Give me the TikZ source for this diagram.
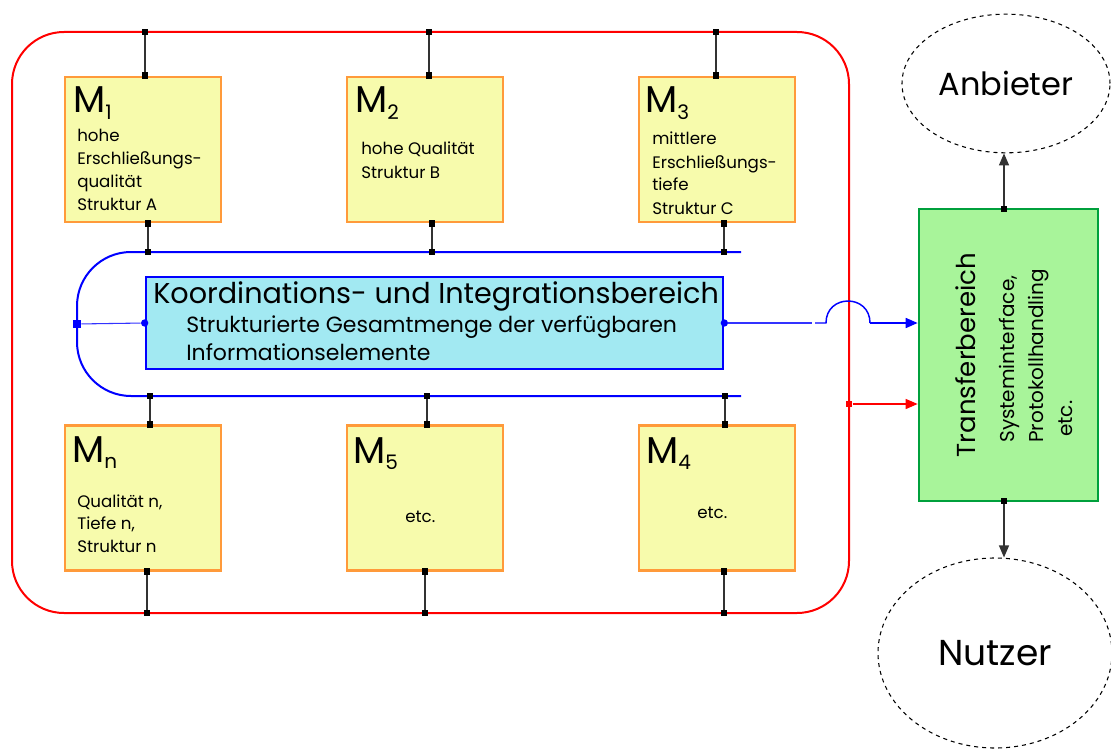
\documentclass[tikz,border=0pt]{standalone}
\usepackage{fontspec}
\setmainfont{Poppins}
\usetikzlibrary{arrows.meta,shapes.geometric}
\definecolor{boxfill}{HTML}{F7FBAC}
\definecolor{boxline}{HTML}{FF9A3A}
\definecolor{kfill}{HTML}{A2E9F2}
\definecolor{gfill}{HTML}{A8F49A}
\definecolor{gline}{HTML}{00A03C}
\newcommand\modname[1]{M\raisebox{-5pt}{\fontsize{15}{15}\selectfont #1}}
% stacked lines whose baseline is that of the first line
\newcommand\stack[1]{\begin{tabular}[t]{@{}l@{}}#1\end{tabular}}
\begin{document}
\begin{tikzpicture}[x=0.75pt,y=-0.75pt,
  conn/.style={draw=black!80, line width=0.9pt},
  sq/.style={rectangle, fill=black, inner sep=0pt, minimum size=5.2pt},
  bdot/.style={circle, fill=blue, inner sep=0pt, minimum size=5.5pt},
  mbox/.style={rectangle, draw=boxline, fill=boxfill, line width=2pt,
    minimum width=117pt, minimum height=108.75pt, inner sep=0pt},
  mlabel/.style={anchor=base west, inner sep=0pt, font=\fontsize{28}{28}\selectfont},
  mtext/.style={anchor=base west, inner sep=0pt, font=\fontsize{12.5}{17.25}\selectfont},
  bus/.style={draw=blue, line width=1.5pt},
  thinbus/.style={draw=blue!80, line width=0.8pt},
  frame/.style={draw=red, line width=1.5pt},
  cloud/.style={ellipse, draw=black, dashed, line width=0.8pt, inner sep=0pt},
  tip/.style={-{Triangle[length=9pt,width=7.5pt]}}
]
\useasboundingbox (0,0) rectangle (1111,749);

% outer frame of the module area
\draw[frame, rounded corners=39pt] (12,32) rectangle (849,613);

% coordination bus
\draw[bus, rounded corners=40.5pt] (741,252) -- (77,252) -- (77,396) -- (741,396);

% modules
\node[mbox] (m1) at (143,149.5) {};
\node[mbox] (m2) at (425,149.5) {};
\node[mbox] (m3) at (717,149.5) {};
\node[mbox] (mn) at (143,498) {};
\node[mbox] (m5) at (425,498) {};
\node[mbox] (m4) at (717,498) {};

\node[mlabel] (l1) at (73,113) {\modname{1}};
\node[mlabel] (l2) at (355,113) {\modname{2}};
\node[mlabel] (l3) at (645,113) {\modname{3}};
\node[mlabel] (ln) at (72,462) {\modname{n}};
\node[mlabel] (l5) at (353,463) {\modname{5}};
\node[mlabel] (l4) at (646,463) {\modname{4}};

\node[mtext] (t1) at (77,142) {\stack{hohe\\Erschließungs-\\qualität\\Struktur A}};
\node[mtext] (t2) at (361,155) {\stack{hohe Qualität\\Struktur B}};
\node[mtext] (t3) at (652,145) {\stack{mittlere\\Erschließungs-\\tiefe\\Struktur C}};
\node[mtext, font=\fontsize{12.5}{16.9}\selectfont] (tn) at (77,507) {\stack{Qualität n,\\Tiefe n,\\Struktur n}};
\node[mtext] (t5) at (405,522) {etc.};
\node[mtext] (t4) at (697,518) {etc.};

% coordination and integration area
\node[rectangle, draw=blue, fill=kfill, line width=2pt, minimum width=432.75pt,
  minimum height=69pt, inner sep=0pt] (kb) at (434.5,323) {};
\node[anchor=base west, inner sep=0pt, font=\fontsize{21.5}{21.5}\selectfont]
  (kbt) at (153,303) {Koordinations- und Integrationsbereich};
\node[anchor=base west, inner sep=0pt, font=\fontsize{16.5}{21}\selectfont]
  (kbs) at (186,332) {\stack{Strukturierte Gesamtmenge der verfügbaren\\Informationselemente}};

% transfer area
\node[rectangle, draw=gline, fill=gfill, line width=2pt, minimum width=134.25pt,
  minimum height=219pt, inner sep=0pt] (gr) at (1008.5,355) {};
\node[rotate=90, anchor=base, inner sep=0pt, font=\fontsize{19.5}{19.5}\selectfont]
  (grt) at (975,355) {Transferbereich};
\node[rotate=90, anchor=base west, inner sep=0pt, font=\fontsize{15}{15}\selectfont]
  (grs1) at (1014,443) {Systeminterface,};
\node[rotate=90, anchor=base west, inner sep=0pt, font=\fontsize{15}{15}\selectfont]
  (grs2) at (1043,443) {Protokollhandling};
\node[rotate=90, anchor=base west, inner sep=0pt, font=\fontsize{15}{15}\selectfont]
  (grs3) at (1072,437) {etc.};

% provider and user
\node[cloud, minimum width=156pt, minimum height=104pt, font=\fontsize{24}{24}\selectfont]
  (anb) at (1006,83.5) {Anbieter};
\node[cloud, minimum width=175.5pt, minimum height=142.5pt, font=\fontsize{27}{27}\selectfont]
  (nut) at (995,653) {Nutzer};

% module links: frame -> module -> bus
\coordinate (ra) at (145,32);  \coordinate (rb) at (429,32);  \coordinate (rc) at (716,32);
\coordinate (ba) at (148,252); \coordinate (bb) at (432,252); \coordinate (bc) at (724,252);
\coordinate (bd) at (150,396); \coordinate (be) at (427,396); \coordinate (bf) at (725,396);
\coordinate (rd) at (147,613); \coordinate (re) at (425,613); \coordinate (rf) at (724,613);

\draw[conn] (ra) -- (ra |- m1.north);
\draw[conn] (rb) -- (rb |- m2.north);
\draw[conn] (rc) -- (rc |- m3.north);
\draw[conn] (ba |- m1.south) -- (ba);
\draw[conn] (bb |- m2.south) -- (bb);
\draw[conn] (bc |- m3.south) -- (bc);
\draw[conn] (bd) -- (bd |- mn.north);
\draw[conn] (be) -- (be |- m5.north);
\draw[conn] (bf) -- (bf |- m4.north);
\draw[conn] (rd |- mn.south) -- (rd);
\draw[conn] (re |- m5.south) -- (re);
\draw[conn] (rf |- m4.south) -- (rf);

\node[sq] (sra) at (ra) {}; \node[sq] (sra2) at (ra |- m1.north) {};
\node[sq] (srb) at (rb) {}; \node[sq] (srb2) at (rb |- m2.north) {};
\node[sq] (src) at (rc) {}; \node[sq] (src2) at (rc |- m3.north) {};
\node[sq] (sba) at (ba) {}; \node[sq] (sba2) at (ba |- m1.south) {};
\node[sq] (sbb) at (bb) {}; \node[sq] (sbb2) at (bb |- m2.south) {};
\node[sq] (sbc) at (bc) {}; \node[sq] (sbc2) at (bc |- m3.south) {};
\node[sq] (sbd) at (bd) {}; \node[sq] (sbd2) at (bd |- mn.north) {};
\node[sq] (sbe) at (be) {}; \node[sq] (sbe2) at (be |- m5.north) {};
\node[sq] (sbf) at (bf) {}; \node[sq] (sbf2) at (bf |- m4.north) {};
\node[sq] (srd) at (rd) {}; \node[sq] (srd2) at (rd |- mn.south) {};
\node[sq] (sre) at (re) {}; \node[sq] (sre2) at (re |- m5.south) {};
\node[sq] (srf) at (rf) {}; \node[sq] (srf2) at (rf |- m4.south) {};

% bus -> coordination area
\node[sq, fill=blue, minimum size=6pt] (bl) at (77,324) {};
\node[bdot] (kbw) at (kb.west) {};
\draw[thinbus] (bl) -- (kbw);

% coordination area -> transfer area, hopping over the frame
\node[bdot] (kbe) at (kb.east) {};
\coordinate (gap1) at (812,323);
\coordinate (gap2) at (815,323);
\coordinate (hop1) at (826,323);
\coordinate (hop2) at (870,323);
\draw[thinbus] (kbe) -- (gap1);
\draw[draw=blue, line width=1.1pt] (gap2) -- (hop1)
  .. controls (826,293.7) and (870,293.7) .. (hop2);
\draw[draw=blue, line width=1.3pt, tip] (hop2) -- (hop2 -| gr.west);

% frame -> transfer area
\node[sq, fill=red] (rp) at (849,404) {};
\draw[draw=red, line width=1pt, tip] (rp) -- (rp -| gr.west);

% transfer area -> provider / user
\coordinate (gt) at (1004,209);
\coordinate (gb) at (1004,501);
\draw[conn, tip] (gt) -- (gt |- anb.south);
\draw[conn, tip] (gb) -- (gb |- nut.north);
\node[sq] (sgt) at (gt) {};
\node[sq] (sgb) at (gb) {};
\end{tikzpicture}
\end{document}
